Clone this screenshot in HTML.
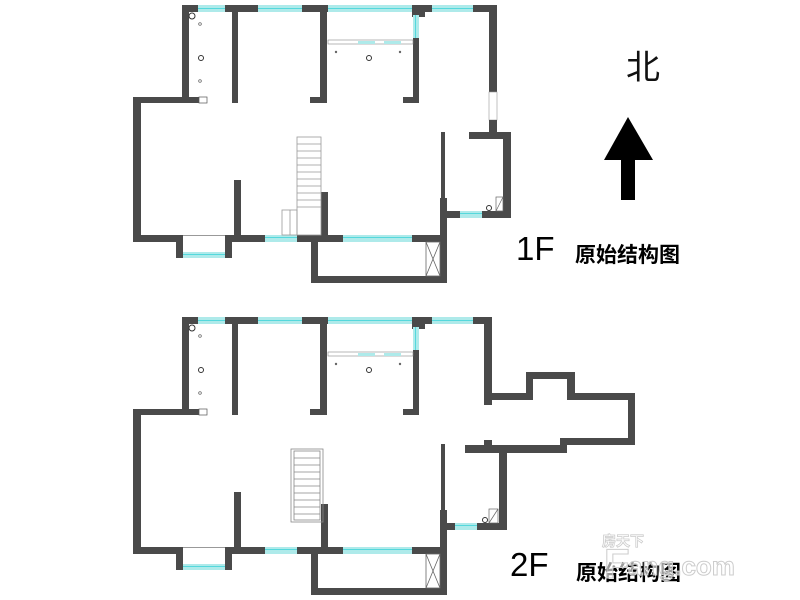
<!DOCTYPE html>
<html><head><meta charset="utf-8"><style>
html,body{margin:0;padding:0;background:#fff;width:800px;height:600px;overflow:hidden}
</style></head><body>
<svg width="800" height="600" viewBox="0 0 800 600" xmlns="http://www.w3.org/2000/svg">
<defs>
<g id="common">
  <!-- top wall -->
  <rect x="182" y="5" width="16" height="7" fill="#4a4a4a"/>
  <rect x="198" y="5" width="27" height="7" fill="#aeeaea"/>
  <rect x="198" y="8" width="27" height="1" fill="#55d8dc"/>
  <rect x="225" y="5" width="33" height="7" fill="#4a4a4a"/>
  <rect x="258" y="5" width="44" height="7" fill="#aeeaea"/>
  <rect x="258" y="8" width="44" height="1" fill="#55d8dc"/>
  <rect x="302" y="5" width="26" height="7" fill="#4a4a4a"/>
  <rect x="328" y="5" width="84" height="7" fill="#aeeaea"/>
  <rect x="328" y="8" width="84" height="1" fill="#55d8dc"/>
  <rect x="412" y="5" width="20" height="7" fill="#4a4a4a"/>
  <rect x="412" y="5" width="13" height="12" fill="#4a4a4a"/>
  <!-- left upper wall -->
  <rect x="182" y="5" width="7" height="95" fill="#4a4a4a"/>
  <rect x="133" y="97" width="67" height="6" fill="#4a4a4a"/>
  <rect x="199" y="97" width="8" height="6" fill="#fff" stroke="#555" stroke-width="0.7"/>
  <rect x="133" y="97" width="8" height="145" fill="#4a4a4a"/>
  <!-- bottom -->
  <rect x="133" y="235" width="50" height="7" fill="#4a4a4a"/>
  <rect x="176" y="235" width="7" height="23" fill="#4a4a4a"/>
  <rect x="183" y="252" width="42" height="6" fill="#aeeaea"/>
  <rect x="183" y="254" width="42" height="1" fill="#55d8dc"/>
  <line x1="183" y1="235.5" x2="225" y2="235.5" stroke="#777" stroke-width="0.7"/>
  <rect x="225" y="235" width="7" height="23" fill="#4a4a4a"/>
  <rect x="225" y="235" width="40" height="7" fill="#4a4a4a"/>
  <rect x="265" y="235" width="32" height="7" fill="#aeeaea"/>
  <rect x="265" y="237" width="32" height="1" fill="#55d8dc"/>
  <rect x="297" y="235" width="46" height="7" fill="#4a4a4a"/>
  <rect x="343" y="235" width="69" height="7" fill="#aeeaea"/>
  <rect x="343" y="237" width="69" height="1" fill="#55d8dc"/>
  <rect x="412" y="235" width="35" height="7" fill="#4a4a4a"/>
  <!-- partitions -->
  <rect x="234" y="180" width="7" height="58" fill="#4a4a4a"/>
  <rect x="321" y="192" width="7" height="45" fill="#4a4a4a"/>
  <!-- balcony -->
  <rect x="311" y="235" width="7" height="48" fill="#4a4a4a"/>
  <rect x="311" y="276" width="136" height="7" fill="#4a4a4a"/>
  <rect x="440" y="198" width="7" height="85" fill="#4a4a4a"/>
  <rect x="426" y="242" width="14" height="34" fill="#fff" stroke="#666" stroke-width="0.8"/>
  <line x1="426" y1="242" x2="440" y2="276" stroke="#666" stroke-width="0.8"/>
  <line x1="440" y1="242" x2="426" y2="276" stroke="#666" stroke-width="0.8"/>
  <!-- interior walls -->
  <rect x="232" y="12" width="6" height="91" fill="#4a4a4a"/>
  <rect x="320" y="5" width="7" height="98" fill="#4a4a4a"/>
  <rect x="310" y="97" width="17" height="6" fill="#4a4a4a"/>
  <rect x="413" y="38" width="6" height="65" fill="#4a4a4a"/>
  <rect x="403" y="97" width="16" height="6" fill="#4a4a4a"/>
  <rect x="413" y="15" width="6" height="23" fill="#aeeaea"/>
  <rect x="415" y="15" width="1" height="23" fill="#55d8dc"/>
  <!-- hall line -->
  <rect x="328" y="40" width="85" height="4" fill="#fff" stroke="#888" stroke-width="0.6"/>
  <rect x="358" y="41" width="17" height="3" fill="#aeeaea"/>
  <rect x="384" y="41" width="17" height="3" fill="#aeeaea"/>
  <!-- circles -->
  <circle cx="192" cy="16" r="3" fill="#fff" stroke="#333" stroke-width="1"/>
  <circle cx="200" cy="24" r="1.3" fill="none" stroke="#555" stroke-width="0.7"/>
  <circle cx="201" cy="58" r="2.5" fill="none" stroke="#333" stroke-width="1"/>
  <circle cx="200" cy="81" r="1.3" fill="none" stroke="#555" stroke-width="0.7"/>
  <circle cx="369" cy="58" r="2.5" fill="none" stroke="#333" stroke-width="1"/>
  <circle cx="336" cy="52" r="1.2" fill="#666"/>
  <circle cx="400" cy="52" r="1.2" fill="#666"/>
  <!-- right thin wall -->
  <rect x="441" y="132" width="4" height="72" fill="#4a4a4a"/>
  <rect x="441" y="200" width="6" height="40" fill="#4a4a4a"/>
</g>
</defs>

<!-- FLOOR 1 -->
<use href="#common"/>
<g fill="#4a4a4a">
  <rect x="432" y="5" width="41" height="7" fill="#aeeaea"/>
  <rect x="432" y="8" width="41" height="1" fill="#55d8dc"/>
  <rect x="473" y="5" width="24" height="7"/>
  <rect x="489" y="5" width="8" height="87"/>
  <rect x="489" y="92" width="8" height="28" fill="#fff" stroke="#999" stroke-width="0.6"/>
  <rect x="489" y="120" width="8" height="19"/>
  <rect x="469" y="132" width="42" height="7"/>
  <rect x="503" y="132" width="8" height="86"/>
  <rect x="447" y="211" width="13" height="7"/>
  <rect x="460" y="211" width="22" height="7" fill="#aeeaea"/>
  <rect x="460" y="213" width="22" height="1" fill="#55d8dc"/>
  <rect x="482" y="211" width="29" height="7"/>
</g>
<rect x="496" y="197" width="7" height="14" fill="#fff" stroke="#666" stroke-width="0.7"/>
<line x1="496" y1="211" x2="503" y2="197" stroke="#666" stroke-width="0.7"/>
<circle cx="489" cy="208" r="2.5" fill="#fff" stroke="#333" stroke-width="1"/>
<!-- stairs F1 -->
<g fill="none" stroke="#999" stroke-width="0.8">
  <rect x="297" y="137" width="24" height="98"/>
  <path d="M297 144H321M297 151H321M297 158H321M297 165H321M297 172H321M297 179H321M297 186H321M297 193H321M297 200H321M297 207H321"/>
  <rect x="282" y="210" width="15" height="25"/>
  <line x1="290" y1="210" x2="290" y2="235"/>
</g>

<!-- FLOOR 2 -->
<g transform="translate(0,312)">
  <use href="#common"/>
  <g fill="#4a4a4a">
    <rect x="432" y="5" width="41" height="7" fill="#aeeaea"/>
    <rect x="432" y="8" width="41" height="1" fill="#55d8dc"/>
    <rect x="473" y="5" width="19" height="7"/>
    <rect x="484" y="5" width="8" height="88"/>
    <rect x="484" y="81" width="49" height="7"/>
    <rect x="526" y="60" width="7" height="28"/>
    <rect x="526" y="60" width="49" height="7"/>
    <rect x="567" y="60" width="8" height="28"/>
    <rect x="567" y="81" width="68" height="7"/>
    <rect x="628" y="81" width="7" height="52"/>
    <rect x="560" y="126" width="75" height="7"/>
    <rect x="560" y="126" width="7" height="15"/>
    <rect x="465" y="133" width="102" height="8"/>
    <rect x="484" y="128" width="8" height="6"/>
    <rect x="499" y="133" width="8" height="85"/>
    <rect x="447" y="211" width="8" height="7"/>
    <rect x="455" y="211" width="22" height="7" fill="#aeeaea"/>
    <rect x="455" y="213" width="22" height="1" fill="#55d8dc"/>
    <rect x="477" y="211" width="30" height="7"/>
  </g>
  <rect x="489" y="197" width="9" height="14" fill="#fff" stroke="#666" stroke-width="0.7"/>
  <line x1="489" y1="211" x2="498" y2="197" stroke="#666" stroke-width="0.7"/>
  <circle cx="485" cy="208" r="2.5" fill="#fff" stroke="#333" stroke-width="1"/>
</g>
<!-- the common group's thin wall top differs slightly on F2; stairs F2 -->
<g fill="none" stroke="#888" stroke-width="0.8">
  <rect x="291" y="449" width="32" height="73"/>
  <rect x="294" y="451" width="26" height="69"/>
  <path d="M294 458H320M294 465H320M294 472H320M294 479H320M294 486H320M294 493H320M294 500H320M294 507H320M294 514H320"/>
</g>

<!-- North arrow -->
<text x="626" y="79" font-family="'Liberation Sans','Noto Sans CJK SC',sans-serif" font-size="34" fill="#111">北</text>
<polygon points="628,117 653,160 604,160" fill="#000"/>
<rect x="621" y="159" width="14" height="41" fill="#000"/>

<!-- Labels -->
<text x="516" y="260" font-family="'Liberation Sans',sans-serif" font-size="33" fill="#000">1F</text>
<text x="575" y="262" font-family="'Liberation Sans','Noto Sans CJK SC',sans-serif" font-size="21" font-weight="bold" fill="#000">原始结构图</text>
<text x="510" y="576" font-family="'Liberation Sans',sans-serif" font-size="33" fill="#000">2F</text>
<text x="576" y="580" font-family="'Liberation Sans','Noto Sans CJK SC',sans-serif" font-size="21" font-weight="bold" fill="#000">原始结构图</text>

<!-- watermark -->
<text x="602" y="546" font-family="'Liberation Sans','Noto Sans CJK SC',sans-serif" font-size="14" font-weight="bold" fill="#fff" stroke="#ccc" stroke-width="0.8">房天下</text>
<text x="604" y="578" font-family="'Liberation Sans',sans-serif" font-size="42" font-weight="bold" fill="#fff" fill-opacity="0.6" stroke="#ccc" stroke-width="1">F</text>
<text x="628" y="575" font-family="'Liberation Sans',sans-serif" font-size="26" font-weight="bold" fill="#fff" fill-opacity="0.6" stroke="#ccc" stroke-width="1">ang.com</text>
</svg>
</body></html>
